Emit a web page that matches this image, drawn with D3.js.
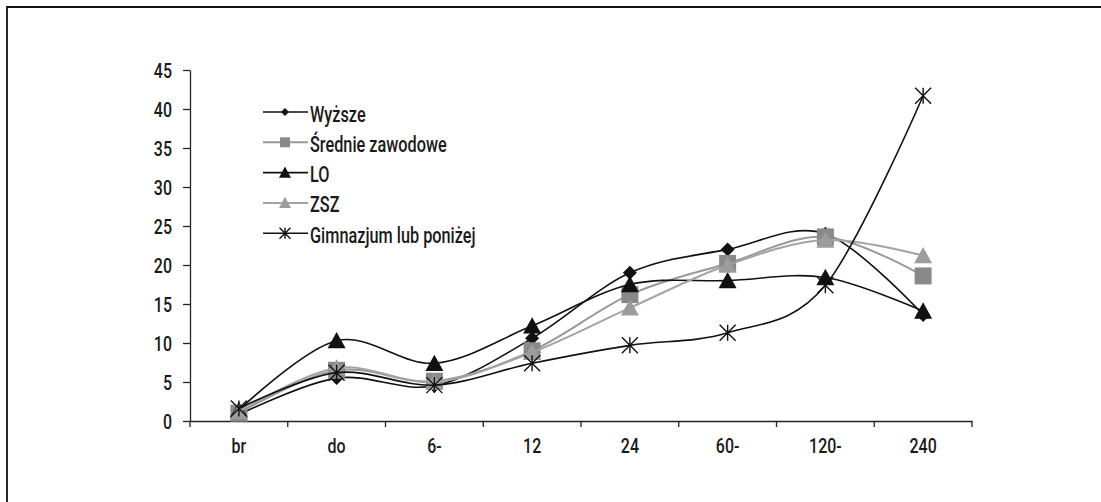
<!DOCTYPE html>
<html>
<head>
<meta charset="utf-8">
<script src="https://cdn.jsdelivr.net/npm/d3@7/dist/d3.min.js"></script>
<style>
html,body{margin:0;padding:0;background:#fff;}
svg{display:block;}
text{font-family:Roboto,"DejaVu Sans",sans-serif;font-weight:500;fill:#1a1a1a;}
</style>
</head>
<body>
<script>
const categories = ["br", "do", "6-", "12", "24", "60-", "120-", "240"];
const yTicks = [0, 5, 10, 15, 20, 25, 30, 35, 40, 45];
const seriesNames = ["Wyższe", "Średnie zawodowe", "LO", "ZSZ", "Gimnazjum lub poniżej"];
const wyzsze  = [0.8, 5.5, 4.5, 10.6, 19.0, 22.0, 24.0, 13.6];
const srednie = [1.0, 6.5, 5.1, 9.0, 16.2, 20.2, 23.6, 18.6];
const lo      = [1.4, 10.3, 7.4, 12.2, 17.5, 18.0, 18.4, 14.1];
const zsz     = [1.2, 6.8, 5.0, 8.8, 14.5, 20.0, 23.2, 21.2];
const gim     = [1.6, 6.2, 4.6, 7.4, 9.7, 11.3, 17.4, 41.7];

const W = 1101, H = 502;
const svg = d3.select("body").append("svg").attr("width", W).attr("height", H);

// frame
svg.append("path").attr("d", `M7,${H + 5} L7,7 L${W + 5},7`)
  .attr("fill", "none").attr("stroke", "#111").attr("stroke-width", 1.8);

const x = d3.scaleBand().domain(categories).range([190, 972]).padding(0);
const y = d3.scaleLinear().domain([0, 45]).range([421, 70]);
const cx = c => x(c) + x.bandwidth() / 2;

// y axis
const yAxis = svg.append("g").attr("transform", "translate(190,0)")
  .call(d3.axisLeft(y).tickValues(yTicks).tickSize(7).tickSizeOuter(0).tickPadding(0));
yAxis.select(".domain").attr("stroke", "#222").attr("stroke-width", 1.3);
yAxis.selectAll(".tick line").attr("stroke", "#222").attr("stroke-width", 1.3);
yAxis.selectAll(".tick text").attr("font-size", 21).attr("x", null).attr("dy", null)
  .attr("font-family", "Roboto,sans-serif")
  .attr("transform", "translate(-18,7.5) scale(0.76,1)");

// x axis
const xAxis = svg.append("g").attr("transform", "translate(0,421)")
  .call(d3.axisBottom(x).tickSize(0).tickSizeOuter(0).tickPadding(0));
xAxis.select(".domain").attr("stroke", "#222").attr("stroke-width", 1.3);
xAxis.selectAll(".tick text").attr("font-size", 21).attr("y", null).attr("dy", null)
  .attr("font-family", "Roboto,sans-serif")
  .attr("transform", "translate(0,32) scale(0.76,1)");
const edges = categories.map(c => x(c)).concat([x.range()[1]]);
xAxis.selectAll("line.edge").data(edges).enter().append("line").attr("class", "edge")
  .attr("x1", d => d).attr("x2", d => d).attr("y1", 0).attr("y2", 6)
  .attr("stroke", "#222").attr("stroke-width", 1.3);

const series = [
  {name: seriesNames[0], values: wyzsze,  stroke: "#111", fill: "#111", sym: "diamond", size: 14, lsize: 8, lw: 1.6},
  {name: seriesNames[1], values: srednie, stroke: "#999", fill: "#88898b", sym: "square", size: 17, lsize: 10, lw: 2},
  {name: seriesNames[2], values: lo,      stroke: "#111", fill: "#111", sym: "triangle", size: 18, lsize: 12, lw: 1.6},
  {name: seriesNames[3], values: zsz,     stroke: "#a3a3a3", fill: "#9c9c9c", sym: "triangle", size: 18, lsize: 12, lw: 2},
  {name: seriesNames[4], values: gim,     stroke: "#111", fill: "none", sym: "star", size: 16, lsize: 11, lw: 1.6}
];

function drawMarker(g, sym, s, color) {
  const h = s / 2;
  if (sym === "diamond") {
    g.append("path").attr("d", `M0,${-h} L${h},0 L0,${h} L${-h},0 Z`).attr("fill", color);
  } else if (sym === "square") {
    g.append("rect").attr("x", -h).attr("y", -h).attr("width", s).attr("height", s).attr("fill", color);
  } else if (sym === "triangle") {
    const th = s * 0.85;
    g.append("path").attr("d", `M0,${-th / 2 - 1} L${h},${th / 2} L${-h},${th / 2} Z`).attr("fill", color);
  } else if (sym === "star") {
    g.append("path").attr("d", `M${-h},${-h} L${h},${h} M${h},${-h} L${-h},${h} M0,${-h} L0,${h}`)
      .attr("stroke", "#111").attr("stroke-width", 1.4).attr("fill", "none");
  }
}

const line = d3.line().curve(d3.curveCardinal.tension(0));

series.forEach(s => {
  const pts = categories.map((c, i) => [cx(c), y(s.values[i])]);
  svg.append("path").attr("d", line(pts)).attr("fill", "none")
    .attr("stroke", s.stroke).attr("stroke-width", s.lw);
  categories.forEach((c, i) => {
    const g = svg.append("g").attr("transform", `translate(${cx(c)},${y(s.values[i])})`);
    drawMarker(g, s.sym, s.size, s.fill);
  });
});

// legend
const leg = svg.append("g");
series.forEach((s, i) => {
  const yy = 112 + i * 30.3;
  leg.append("line").attr("x1", 263).attr("x2", 308).attr("y1", yy).attr("y2", yy)
    .attr("stroke", s.stroke).attr("stroke-width", s.lw);
  const g = leg.append("g").attr("transform", `translate(285,${yy})`);
  drawMarker(g, s.sym, s.lsize, s.fill);
  leg.append("text").attr("font-size", 22)
    .attr("transform", `translate(310,${yy + 9.5}) scale(0.74,1)`).text(s.name);
});
</script>
</body>
</html>
